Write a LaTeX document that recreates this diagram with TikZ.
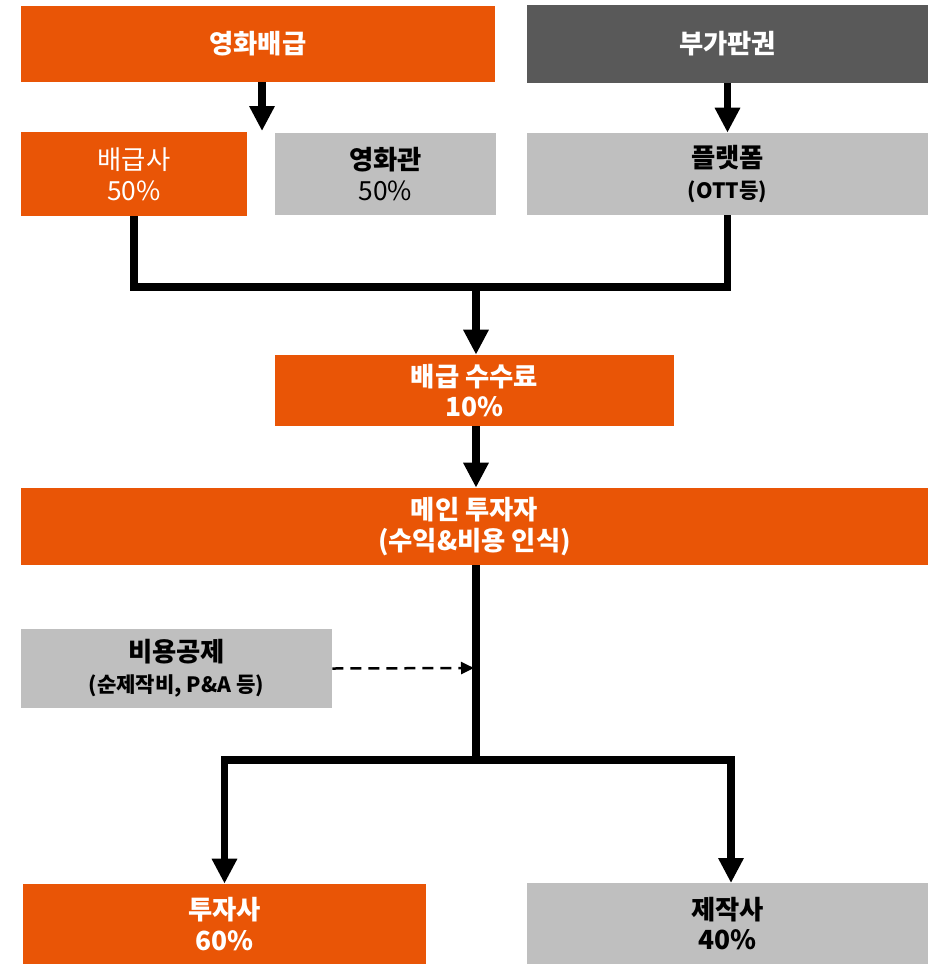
\documentclass[tikz,border=0pt]{standalone}
\usepackage{fontspec}
\setmainfont{Noto Sans CJK KR}
\usetikzlibrary{arrows.meta}
\definecolor{boxorange}{HTML}{E95506}
\definecolor{boxdark}{HTML}{595959}
\definecolor{boxgray}{HTML}{BFBFBF}
\begin{document}
\begin{tikzpicture}[x=0.02cm, y=-0.02cm,
  box/.style={inner sep=0pt, align=center, font=\fontsize{15}{17.5}\selectfont},
  orangebox/.style={box, fill=boxorange, text=white},
  darkbox/.style={box, fill=boxdark, text=white},
  graybox/.style={box, fill=boxgray, text=black},
  flow/.style={line width=0.15cm, -{Triangle[width=0.48cm,length=0.5cm]}},
  joint/.style={line width=0.15cm},
  costarrow/.style={line width=0.05cm, dashed, dash pattern=on 0.22cm off 0.14cm, -{Triangle[width=0.24cm,length=0.26cm]}}]
\useasboundingbox (0,0) rectangle (941,965);
% top row
\node[orangebox, minimum width=9.48cm, minimum height=1.52cm] (dist) at (258,44) {\bfseries 영화배급};
\node[darkbox, minimum width=8.02cm, minimum height=1.56cm] (addl) at (727.5,44) {\bfseries 부가판권};
% second row
\node[orangebox, minimum width=4.52cm, minimum height=1.68cm] (distco) at (134,174) {배급사\\50\%};
\node[graybox, minimum width=4.42cm, minimum height=1.64cm] (theater) at (385.5,174) {\bfseries 영화관\\50\%};
\node[graybox, minimum width=8.02cm, minimum height=1.64cm] (platform) at (727.5,174) {\bfseries 플랫폼\\{\bfseries\fontsize{12}{14}\selectfont (OTT등)}};
% middle
\node[orangebox, minimum width=7.98cm, minimum height=1.42cm] (fee) at (474.5,390.5) {\bfseries 배급 수수료\\\bfseries 10\%};
\node[orangebox, minimum width=18.14cm, minimum height=1.54cm] (main) at (474.5,526.5) {\bfseries 메인 투자자\\\bfseries (수익\&비용 인식)};
\node[graybox, minimum width=6.22cm, minimum height=1.58cm] (cost) at (176.5,668.5) {\bfseries 비용공제\\{\bfseries\fontsize{12}{14}\selectfont (순제작비, P\&A 등)}};
% bottom row
\node[orangebox, minimum width=8.06cm, minimum height=1.6cm] (investor) at (224.5,924) {\bfseries 투자사\\\bfseries 60\%};
\node[graybox, minimum width=8.02cm, minimum height=1.62cm] (producer) at (727.5,923.5) {\bfseries 제작사\\\bfseries 40\%};

\coordinate (split) at (262,131);
\coordinate (merge) at (476,287);
\coordinate (fork) at (476,760);
\coordinate (spine) at (474,668);

\draw[flow] (dist.south -| split) -- (split);
\draw[flow] (addl.south) -- (platform.north);
\draw[joint] (distco.south) -- (134,287) -| (platform.south);
\draw[flow] (merge) -- (merge |- fee.north);
\draw[flow] (fee.south -| merge) -- (main.north -| merge);
\draw[joint] (main.south -| fork) -- (fork);
\draw[flow] (fork) -| (investor.north);
\draw[flow] (fork) -| (731,883);
\draw[costarrow] (cost.east) -- (spine);
\end{tikzpicture}
\end{document}
